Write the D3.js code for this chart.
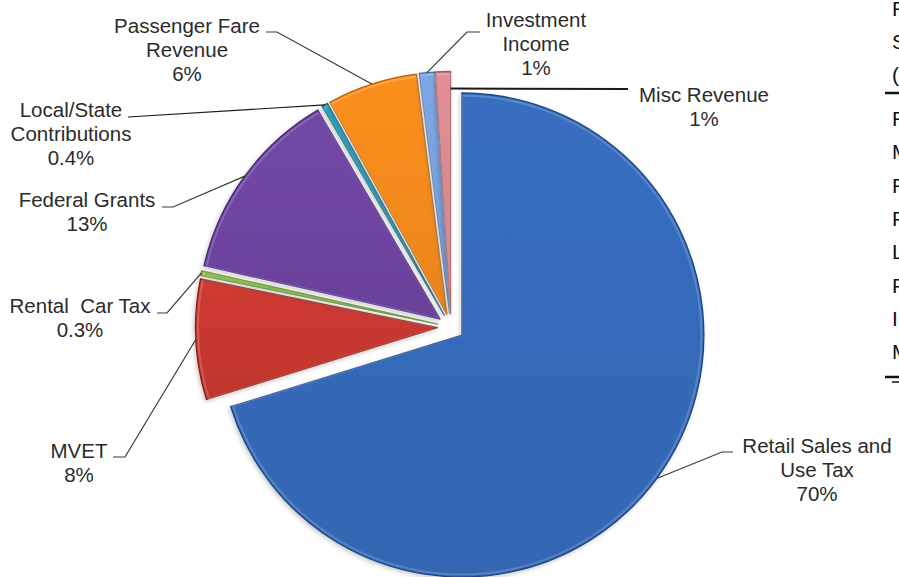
<!DOCTYPE html>
<html>
<head>
<meta charset="utf-8">
<script src="https://cdn.jsdelivr.net/npm/d3@7"></script>
<style>
  html, body { margin: 0; padding: 0; background: #ffffff; overflow: hidden; }
  svg { display: block; }
</style>
</head>
<body>
<svg id="chart" width="899" height="577"></svg>
<script>
// Revenue sources, in slice order clockwise from 12 o'clock
const categories = [
  "Retail Sales and Use Tax", "MVET", "Rental Car Tax", "Federal Grants",
  "Local/State Contributions", "Passenger Fare Revenue", "Investment Income", "Misc Revenue"
];
const shares = [70, 8, 0.3, 13, 0.4, 6, 1, 1];
const shareLabels = ["70%", "8%", "0.3%", "13%", "0.4%", "6%", "1%", "1%"];
const labelLines = [
  ["Retail Sales and", "Use Tax"], ["MVET"], ["Rental  Car Tax"], ["Federal Grants"],
  ["Local/State", "Contributions"], ["Passenger Fare", "Revenue"], ["Investment", "Income"], ["Misc Revenue"]
];
const tableHeader = ["Revenue", "Sources", "($ millions)"];

// styling
const fills = ["#3569b8", "#c6382f", "#8ab84a", "#6d44a0", "#2a9ab8", "#f1891c", "#78a0da", "#d88890"];
const edges = ["#1d4785", "#8a1f18", "#5b8a28", "#472677", "#176a82", "#b8620a", "#4a74b2", "#a5555c"];

// label placement: first baseline, and the bend points of each leader line (label side first)
const labelLayout = [
  { x: 817, y: 453, bend: [[733, 452], [722, 452]] },
  { x: 79,  y: 458, bend: [[113, 457], [125, 457]] },
  { x: 80,  y: 313, bend: [[157, 313], [167, 313]] },
  { x: 87,  y: 207, bend: [[162, 207], [173, 207]] },
  { x: 71,  y: 117, bend: [[128, 117]] },
  { x: 187, y: 33,  bend: [[266, 32], [277, 32]] },
  { x: 536, y: 27,  bend: [[480, 32], [467, 32]] },
  { x: 704, y: 102, bend: [[628, 89]] }
];

const cx = 451, cy = 327, radius = 242, explode = 13.5;
const lineH = 24;

const svg = d3.select("#chart");
const defs = svg.append("defs");

// faint shadow under the slices
const f = defs.append("filter").attr("id", "shade")
  .attr("x", "-10%").attr("y", "-10%").attr("width", "120%").attr("height", "120%");
f.append("feDropShadow").attr("dx", -1.5).attr("dy", 2).attr("stdDeviation", 2)
  .attr("flood-color", "#000").attr("flood-opacity", 0.2);

// gentle top-to-bottom shading per slice
fills.forEach((c, i) => {
  const g = defs.append("linearGradient").attr("id", "grad" + i)
    .attr("x1", "0").attr("y1", "0").attr("x2", "0").attr("y2", "1");
  g.append("stop").attr("offset", "0%").attr("stop-color", d3.color(c).brighter(0.12));
  g.append("stop").attr("offset", "100%").attr("stop-color", d3.color(c).darker(0.08));
});

const pie = d3.pie().sort(null).value(d => d).startAngle(0).endAngle(2 * Math.PI);
const arcs = pie(shares);
const arc = d3.arc().innerRadius(0).outerRadius(radius);
const rim = d3.arc().innerRadius(0).outerRadius(radius - 2.5);

const dir = a => [Math.sin(a), -Math.cos(a)];
const offsetOf = d => {
  const m = (d.startAngle + d.endAngle) / 2;
  const [ux, uy] = dir(m);
  return [cx + ux * explode, cy + uy * explode];
};

const slices = svg.append("g");
const sg = slices.selectAll("g").data(arcs).join("g")
  .attr("transform", d => `translate(${offsetOf(d)})`)
  .attr("filter", "url(#shade)");
sg.append("path")
  .attr("d", arc)
  .attr("fill", (d, i) => `url(#grad${i})`)
  .attr("stroke", (d, i) => edges[i])
  .attr("stroke-width", 1.3)
  .attr("stroke-linejoin", "round");
// soft light rim just inside the outline
sg.append("path")
  .attr("d", rim)
  .attr("fill", "none")
  .attr("stroke", "#ffffff")
  .attr("stroke-opacity", 0.18)
  .attr("stroke-width", 2)
  .attr("stroke-linejoin", "round");

// leader lines
const leaders = svg.append("g").attr("fill", "none");
arcs.forEach((d, i) => {
  const [ox, oy] = offsetOf(d);
  let end;
  if (i === arcs.length - 1) {
    // last sliver: line meets its closing edge
    const [ux, uy] = dir(d.endAngle);
    end = [ox + ux * radius * 0.93, oy + uy * radius * 0.93];
  } else {
    const [ux, uy] = dir((d.startAngle + d.endAngle) / 2);
    end = [ox + ux * radius, oy + uy * radius];
  }
  const pts = labelLayout[i].bend.concat([end]);
  leaders.append("path")
    .attr("d", d3.line()(pts))
    .attr("stroke", i === arcs.length - 1 || i === 4 ? "#1a1a1a" : "#3a3a3a")
    .attr("stroke-width", i === arcs.length - 1 ? 2 : 1.2);
});

// data labels
const labels = svg.append("g")
  .attr("font-family", "'Liberation Sans', Arial, sans-serif")
  .attr("font-size", 20.5)
  .attr("fill", "#2b2b2b")
  .attr("text-anchor", "middle");
arcs.forEach((d, i) => {
  const L = labelLayout[i];
  const t = labels.append("text").attr("x", L.x).attr("y", L.y);
  const rows = labelLines[i].concat([shareLabels[i]]);
  rows.forEach((s, k) => {
    t.append("tspan").attr("x", L.x).attr("y", L.y + k * lineH)
      .style("white-space", "pre").text(s);
  });
});

// table column running off the right edge
const tbl = svg.append("g")
  .attr("font-family", "'Liberation Sans Narrow', 'Arial Narrow', 'Liberation Sans', sans-serif")
  .attr("font-size", 21)
  .attr("fill", "#111");
tableHeader.forEach((s, k) => {
  tbl.append("text").attr("x", 892).attr("y", 16 + k * 33).text(s);
});
tbl.append("line").attr("x1", 885).attr("x2", 899).attr("y1", 93).attr("y2", 93)
  .attr("stroke", "#111").attr("stroke-width", 2.5);
categories.forEach((s, k) => {
  tbl.append("text").attr("x", 892).attr("y", 126 + k * 33.3).text(s);
});
tbl.append("line").attr("x1", 885).attr("x2", 899).attr("y1", 377).attr("y2", 377)
  .attr("stroke", "#111").attr("stroke-width", 2.5);
tbl.append("line").attr("x1", 892).attr("x2", 899).attr("y1", 382).attr("y2", 382)
  .attr("stroke", "#111").attr("stroke-width", 1.5);
</script>
</body>
</html>
